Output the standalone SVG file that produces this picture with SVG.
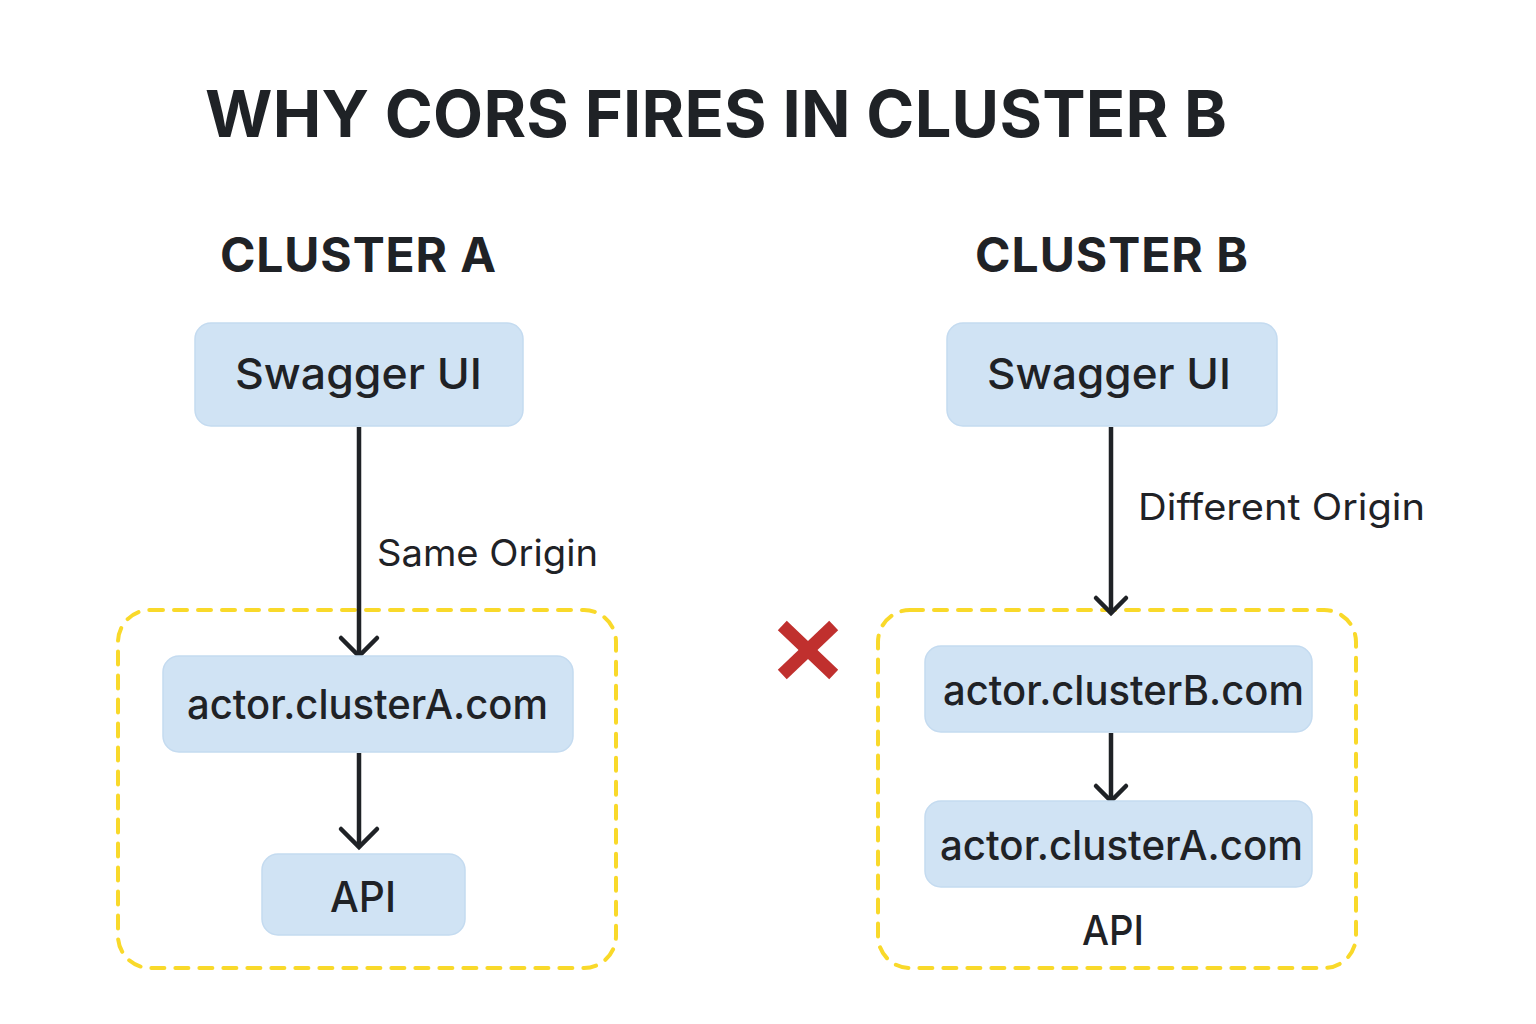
<svg xmlns="http://www.w3.org/2000/svg" width="1536" height="1024" viewBox="0 0 1536 1024">
<defs>
<style>
.t{font-family:Inter,Roboto,"Noto Sans","Liberation Sans",sans-serif;fill:#1f2226}
.title{font-size:65px;font-weight:700}
.h{font-size:48px;font-weight:700}
.n{font-size:43px;font-weight:500}
.lbl{font-size:37px;font-weight:400}
.box{fill:#d0e3f4;stroke:#c4dbf0;stroke-width:1.5}
.grp{fill:none;stroke:#f9d92a;stroke-width:4;stroke-dasharray:13 11;stroke-linecap:round}
.ln{fill:none;stroke:#1f2226;stroke-width:4.5}
.hd{fill:none;stroke:#1f2226;stroke-width:4.5;stroke-linecap:round;stroke-linejoin:miter}
</style>
</defs>
<rect width="1536" height="1024" fill="#ffffff"/>
<text class="t title" x="205" y="137" textLength="1022" lengthAdjust="spacing">WHY CORS FIRES IN CLUSTER B</text>
<text class="t h" x="220" y="272" textLength="276" lengthAdjust="spacing">CLUSTER A</text>
<text class="t h" x="975" y="272" textLength="273" lengthAdjust="spacing">CLUSTER B</text>

<g id="groupA"><rect class="grp" x="118" y="610" width="498" height="358" rx="32"/></g>
<g id="groupB"><rect class="grp" x="878" y="610" width="478" height="358" rx="32"/><text class="t n" x="1082" y="945" style="font-size:41px" textLength="62" lengthAdjust="spacingAndGlyphs">API</text></g>

<g id="connectors">
<line class="ln" x1="359" y1="427" x2="359" y2="654"/>
<polyline class="hd" points="341,638 359,656 377,638"/>
<text class="t lbl" x="377" y="566" textLength="221" lengthAdjust="spacingAndGlyphs">Same Origin</text>
<line class="ln" x1="1111" y1="427" x2="1111" y2="612"/>
<polyline class="hd" points="1096,598 1111,613 1126,598"/>
<text class="t lbl" x="1138" y="520" textLength="287" lengthAdjust="spacingAndGlyphs">Different Origin</text>
<line class="ln" x1="359" y1="753" x2="359" y2="845"/>
<polyline class="hd" points="341,829 359,847 377,829"/>
<line class="ln" x1="1111" y1="733" x2="1111" y2="800"/>
<polyline class="hd" points="1096,786 1111,801 1126,786"/>
</g>

<g id="swaggerA"><rect class="box" x="195" y="323" width="328" height="103" rx="16"/><text class="t n" x="235" y="389" textLength="247" lengthAdjust="spacingAndGlyphs">Swagger UI</text></g>
<g id="actorA"><rect class="box" x="163" y="656" width="410" height="96" rx="16"/><text class="t n" x="187" y="719" style="font-size:41px" textLength="361" lengthAdjust="spacingAndGlyphs">actor.clusterA.com</text></g>
<g id="apiA"><rect class="box" x="262" y="854" width="203" height="81" rx="16"/><text class="t n" x="330" y="912" style="font-size:43px" textLength="66" lengthAdjust="spacingAndGlyphs">API</text></g>

<g id="swaggerB"><rect class="box" x="947" y="323" width="330" height="103" rx="16"/><text class="t n" x="987" y="389" textLength="244" lengthAdjust="spacingAndGlyphs">Swagger UI</text></g>
<g id="actorB"><rect class="box" x="925" y="646" width="387" height="86" rx="16"/><text class="t n" x="943" y="705" style="font-size:41px" textLength="361" lengthAdjust="spacingAndGlyphs">actor.clusterB.com</text></g>
<g id="actorA2"><rect class="box" x="925" y="801" width="387" height="86" rx="16"/><text class="t n" x="940" y="860" style="font-size:41px" textLength="363" lengthAdjust="spacingAndGlyphs">actor.clusterA.com</text></g>

<g id="cross" stroke="#c0302e" stroke-width="13" stroke-linecap="square">
<line x1="787" y1="630" x2="829" y2="670"/><line x1="829" y1="630" x2="787" y2="670"/>
</g>
</svg>
